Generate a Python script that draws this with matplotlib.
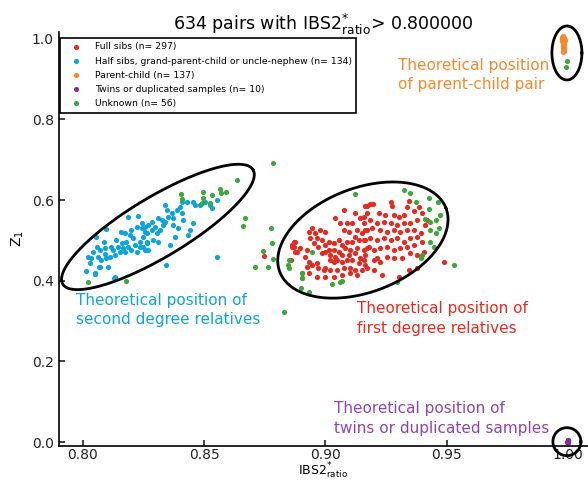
import numpy as np
import matplotlib
matplotlib.use("Agg")
import matplotlib.pyplot as plt

# dados (IBS2*ratio, Z1)
full_x = [0.9165, 0.9186, 0.9172, 0.9124, 0.9076, 0.9145, 0.9090, 0.9110, 0.9158, 0.9041,
          0.9062, 0.9076, 0.9096, 0.9131, 0.9152, 0.9172, 0.9124, 0.8945, 0.8931, 0.8959,
          0.8979, 0.9000, 0.8938, 0.8966, 0.8986, 0.8952, 0.8972, 0.9000, 0.9014, 0.9034,
          0.9055, 0.9069, 0.9090, 0.9110, 0.9138, 0.9165, 0.9179, 0.9158, 0.9131, 0.9103,
          0.9083, 0.9055, 0.9034, 0.9014, 0.9000, 0.8986, 0.9021, 0.9041, 0.9069, 0.9096,
          0.9124, 0.9145, 0.9165, 0.8876, 0.8869, 0.8897, 0.8924, 0.8883, 0.8917, 0.8931,
          0.8924, 0.8945, 0.8966, 0.8972, 0.9000, 0.9021, 0.9034, 0.9048, 0.9069, 0.9090,
          0.9110, 0.9138, 0.9165, 0.9152, 0.9124, 0.9103, 0.9076, 0.9048, 0.9021, 0.8993,
          0.8966, 0.8931, 0.8904, 0.8904, 0.9000, 0.9034, 0.9069, 0.9103, 0.9131, 0.8855,
          0.8862,
          0.9172, 0.9197, 0.9220, 0.9248, 0.9269, 0.9276, 0.9282, 0.9303, 0.9324, 0.9338,
          0.9344, 0.9365, 0.9386, 0.9400, 0.9379, 0.9351, 0.9324, 0.9296, 0.9269, 0.9241,
          0.9214, 0.9186, 0.9158, 0.9165, 0.9193, 0.9227, 0.9255, 0.9282, 0.9310, 0.9338,
          0.9365, 0.9393, 0.9413, 0.9420, 0.9158, 0.9186, 0.9214, 0.9241, 0.9269, 0.9296,
          0.9324, 0.9351, 0.9379, 0.9400, 0.9365, 0.9338, 0.9310, 0.9282, 0.9255, 0.9227,
          0.9200, 0.9172, 0.9200, 0.9214, 0.9227, 0.9255, 0.9282, 0.9317, 0.9351, 0.9379,
          0.9406, 0.9172, 0.9200, 0.9234, 0.9344, 0.9379, 0.9303, 0.9489, 0.9158,
          0.8748, 0.8869, 0.8862, 0.8876, 0.8858]
full_y = [0.586, 0.591, 0.567, 0.567, 0.576, 0.555, 0.543, 0.543, 0.543, 0.555,
          0.543, 0.526, 0.522, 0.526, 0.518, 0.526, 0.509, 0.530, 0.522, 0.518,
          0.526, 0.522, 0.505, 0.505, 0.501, 0.493, 0.485, 0.489, 0.497, 0.493,
          0.501, 0.489, 0.497, 0.497, 0.501, 0.501, 0.485, 0.476, 0.481, 0.476,
          0.481, 0.472, 0.476, 0.476, 0.472, 0.468, 0.464, 0.460, 0.464, 0.464,
          0.468, 0.456, 0.464, 0.497, 0.485, 0.481, 0.476, 0.472, 0.460, 0.447,
          0.435, 0.439, 0.443, 0.431, 0.431, 0.452, 0.447, 0.452, 0.447, 0.452,
          0.452, 0.443, 0.439, 0.427, 0.427, 0.431, 0.431, 0.427, 0.427, 0.427,
          0.410, 0.419, 0.419, 0.406, 0.410, 0.410, 0.414, 0.419, 0.414, 0.452,
          0.489,
          0.586, 0.591, 0.567, 0.563, 0.596, 0.586, 0.563, 0.559, 0.563, 0.584,
          0.599, 0.572, 0.584, 0.567, 0.551, 0.543, 0.543, 0.538, 0.543, 0.547,
          0.543, 0.551, 0.559, 0.526, 0.530, 0.526, 0.522, 0.526, 0.522, 0.526,
          0.526, 0.518, 0.538, 0.551, 0.501, 0.505, 0.501, 0.505, 0.501, 0.505,
          0.497, 0.505, 0.509, 0.497, 0.489, 0.485, 0.481, 0.476, 0.485, 0.481,
          0.476, 0.481, 0.452, 0.456, 0.447, 0.460, 0.456, 0.456, 0.468, 0.464,
          0.472, 0.431, 0.427, 0.414, 0.427, 0.431, 0.410, 0.447, 0.452,
          0.462, 0.497, 0.485, 0.471, 0.452]

half_x = [0.8187, 0.8229, 0.8098, 0.8054, 0.8088, 0.8156, 0.8174, 0.8194, 0.8208, 0.8180,
          0.8160, 0.8139, 0.8118, 0.8125, 0.8091, 0.8057, 0.8043, 0.8022, 0.8036, 0.8063,
          0.8077, 0.8098, 0.8112, 0.8132, 0.8153, 0.8167, 0.8187, 0.8201, 0.8215, 0.8236,
          0.8249, 0.8263, 0.8256, 0.8243, 0.8222, 0.8201, 0.8029, 0.8015, 0.8050, 0.8070,
          0.8105, 0.8132, 0.8091, 0.8070, 0.8146, 0.8174, 0.8222, 0.8236, 0.8263,
          0.8243, 0.8256, 0.8270, 0.8284, 0.8298, 0.8311, 0.8325, 0.8332, 0.8318, 0.8305,
          0.8263, 0.8249, 0.8270, 0.8291, 0.8311, 0.8339, 0.8353, 0.8346, 0.8339, 0.8367,
          0.8373, 0.8387, 0.8401, 0.8408, 0.8415, 0.8394, 0.8428, 0.8456, 0.8463, 0.8483,
          0.8504, 0.8525, 0.8532, 0.8552, 0.8408, 0.8380, 0.8360, 0.8442, 0.8456, 0.8435,
          0.8373, 0.8284, 0.8256, 0.8552, 0.8343, 0.8128, 0.8066, 0.8050]
half_y = [0.557, 0.561, 0.528, 0.509, 0.497, 0.522, 0.518, 0.514, 0.505, 0.497,
          0.493, 0.501, 0.485, 0.476, 0.481, 0.485, 0.472, 0.460, 0.456, 0.460,
          0.452, 0.456, 0.460, 0.464, 0.472, 0.481, 0.485, 0.476, 0.489, 0.497,
          0.509, 0.518, 0.534, 0.543, 0.534, 0.526, 0.443, 0.425, 0.419, 0.435,
          0.435, 0.409, 0.467, 0.476, 0.485, 0.472, 0.472, 0.485, 0.493,
          0.530, 0.522, 0.538, 0.547, 0.534, 0.555, 0.551, 0.538, 0.526, 0.518,
          0.497, 0.485, 0.476, 0.501, 0.497, 0.547, 0.559, 0.576, 0.588, 0.567,
          0.555, 0.576, 0.584, 0.567, 0.551, 0.530, 0.596, 0.596, 0.588, 0.588,
          0.596, 0.588, 0.580, 0.600, 0.596, 0.509, 0.489, 0.526, 0.543, 0.514,
          0.538, 0.526, 0.476, 0.460, 0.439, 0.407, 0.434, 0.417]

parent_x = [0.9974, 0.9978, 0.9982, 0.9986, 0.9976, 0.9980, 0.9984, 0.9987, 0.9975, 0.9979,
            0.9983, 0.9986, 0.9978, 0.9982, 0.9985, 0.9980, 0.9984, 0.9981, 0.9983, 0.9982,
            0.9984, 0.9981, 0.9983, 0.9982]
parent_y = [1.004, 1.006, 1.005, 1.003, 0.999, 1.001, 1.000, 0.997, 0.994, 0.995,
            0.993, 0.991, 0.988, 0.989, 0.986, 0.982, 0.981, 0.977, 0.975, 0.971,
            0.969, 0.967, 0.973, 0.979]

twins_x = [0.9998, 0.9999, 1.0, 0.9999, 1.0, 0.9998, 0.9999, 1.0, 0.9999, 0.9999]
twins_y = [0.000, 0.001, 0.000, 0.002, 0.003, 0.001, 0.004, 0.001, 0.000, 0.006]

unk_x = [0.8404, 0.8408, 0.8497, 0.8495, 0.8532, 0.8566, 0.8569, 0.8591, 0.8638, 0.8784,
         0.8671, 0.8662, 0.8776, 0.8781, 0.8745, 0.8786, 0.8711, 0.8763, 0.8022, 0.8178,
         0.8490, 0.8525, 0.8828, 0.8848, 0.8851, 0.8851, 0.9121, 0.8947, 0.8903, 0.8903,
         0.9027, 0.9062, 0.9069, 0.8901, 0.8931,
         0.9324, 0.9348, 0.9372, 0.9427, 0.9464, 0.9427, 0.9472, 0.9413, 0.9431, 0.9455,
         0.9468, 0.9430, 0.9455, 0.9431, 0.9448, 0.9400, 0.9393, 0.9530, 0.9296,
         0.9995, 0.9991]
unk_y = [0.615, 0.602, 0.619, 0.606, 0.613, 0.627, 0.617, 0.619, 0.650, 0.692,
         0.555, 0.536, 0.532, 0.493, 0.474, 0.454, 0.435, 0.435, 0.396, 0.400,
         0.592, 0.592, 0.322, 0.439, 0.431, 0.452, 0.615, 0.472, 0.419, 0.406,
         0.392, 0.396, 0.400, 0.381, 0.373,
         0.625, 0.617, 0.595, 0.605, 0.596, 0.577, 0.563, 0.553, 0.547, 0.551,
         0.530, 0.526, 0.518, 0.497, 0.485, 0.464, 0.456, 0.439, 0.398,
         0.946, 0.930]

grupos = [
    ("Full sibs (n= 297)", full_x, full_y, "#e8291f"),
    ("Half sibs, grand-parent-child or uncle-nephew (n= 134)", half_x, half_y, "#0fa3db"),
    ("Parent-child (n= 137)", parent_x, parent_y, "#f7892b"),
    ("Twins or duplicated samples (n= 10)", twins_x, twins_y, "#7b3294"),
    ("Unknown (n= 56)", unk_x, unk_y, "#3da63d"),
]

fig = plt.figure(figsize=(5.88, 4.82), dpi=100)
ax = fig.add_axes([58.7 / 588, 36.3 / 482, 529.3 / 588, 413.7 / 482])

for nome, xs, ys, cor in grupos:
    ax.scatter(xs, ys, s=14, color=cor, linewidths=0, label=nome, zorder=3)

ax.set_xlim(0.7901, 1.0083)
ax.set_ylim(-0.009, 1.017)
ax.set_xticks([0.80, 0.85, 0.90, 0.95, 1.00])
ax.set_xticklabels(["0.80", "0.85", "0.90", "0.95", "1.00"])
ax.set_yticks([0.0, 0.2, 0.4, 0.6, 0.8, 1.0])
ax.set_yticklabels(["0.0", "0.2", "0.4", "0.6", "0.8", "1.0"])
ax.tick_params(direction="in", length=4, width=1.2, labelsize=10, colors="#222222")
ax.tick_params(axis="x", pad=1.5)
for lado in ["top", "right"]:
    ax.spines[lado].set_visible(False)
for lado in ["left", "bottom"]:
    ax.spines[lado].set_linewidth(1.2)

ax.set_xlabel(r"IBS2$^{*}_{\rm ratio}$", fontsize=9, labelpad=-0.5)
ax.set_ylabel(r"Z$_1$", fontsize=10, labelpad=4)
fig.text(323 / 588, 1 - 24 / 482, r"634 pairs with IBS2$^{*}_{\rm ratio}$> 0.800000",
         ha="center", va="center", fontsize=12.5)

leg = ax.legend(loc="upper left", bbox_to_anchor=(0.003, 0.986), borderaxespad=0,
                fontsize=6.7, scatterpoints=1, handlelength=2.4, handletextpad=0.8,
                labelspacing=0.55, borderpad=0.5, fancybox=False, framealpha=1)
leg.get_frame().set_edgecolor("black")
leg.get_frame().set_linewidth(1.2)


# elipses desenhadas em pixels, centradas em coordenadas de dados
def elipse(cx, cy, a, b, ang):
    t = np.linspace(0, 2 * np.pi, 300)
    c = ax.transData.transform((cx, cy))
    th = np.radians(ang)
    u = a * np.cos(t)
    v = b * np.sin(t)
    px = c[0] + u * np.cos(th) - v * np.sin(th)
    py = c[1] + u * np.sin(th) + v * np.cos(th)
    pts = ax.transData.inverted().transform(np.column_stack([px, py]))
    ax.plot(pts[:, 0], pts[:, 1], color="black", lw=2, clip_on=False, zorder=4)


elipse(0.8310, 0.5335, 111, 30, 31)
elipse(0.9155, 0.501, 89, 52, 21)
elipse(0.9996, 0.965, 15, 27, 0)
elipse(0.9996, 0.001, 14, 14, 0)

ax.text(0.930, 0.952, "Theoretical position\nof parent-child pair", color="#f7892b",
        fontsize=11, ha="left", va="top", linespacing=1.35)
ax.text(0.7972, 0.369, "Theoretical position of\nsecond degree relatives", color="#0fa3db",
        fontsize=11, ha="left", va="top", linespacing=1.35)
ax.text(0.9131, 0.349, "Theoretical position of\nfirst degree relatives", color="#e8291f",
        fontsize=11, ha="left", va="top", linespacing=1.35)
ax.text(0.9036, 0.101, "Theoretical position of\ntwins or duplicated samples", color="#8e44ad",
        fontsize=11, ha="left", va="top", linespacing=1.35)

plt.savefig("out.png", dpi=100)
plt.close()
